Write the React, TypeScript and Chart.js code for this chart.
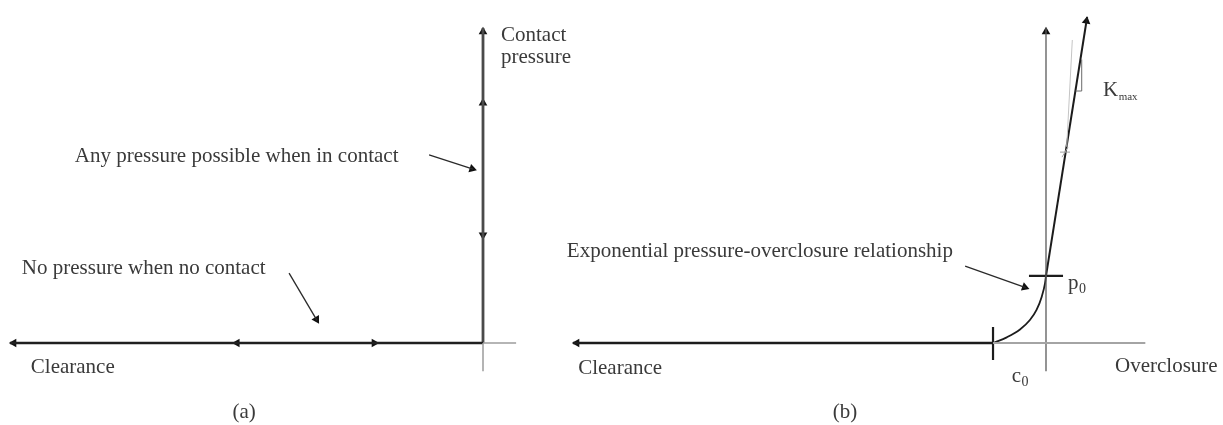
import { useEffect, useRef } from "react";
import { Chart, registerables } from "chart.js";

Chart.register(...registerables);

type Pt = { x: number; y: number };
type Head = { x: number; y: number; fx: number; fy: number };
type Label = { text: string; x: number; y: number; sub?: string; subSize?: number; align?: CanvasTextAlign };

const W = 1223;
const H = 425;

// ---------- (a) hard contact ----------
const hardClearance: Pt[] = [{ x: -1, y: 0 }, { x: 0, y: 0 }];
const hardPressure: Pt[] = [{ x: 0, y: 0 }, { x: 0, y: 1 }];
const hardOverclosureStub: Pt[] = [{ x: 0, y: 0 }, { x: 0.07, y: 0 }];
const hardNegativeStub: Pt[] = [{ x: 0, y: 0 }, { x: 0, y: -0.09 }];
const hardNoteContact: Pt[] = [{ x: -0.114, y: 0.597 }, { x: -0.021, y: 0.552 }];
const hardNoteNoContact: Pt[] = [{ x: -0.41, y: 0.222 }, { x: -0.351, y: 0.072 }];
const hardHeads: Head[] = [
  { x: -0.992, y: 0, fx: 0, fy: 0 },
  { x: -0.52, y: 0, fx: 0, fy: 0 },
  { x: -0.23, y: 0, fx: -1, fy: 0 },
  { x: 0, y: 0.988, fx: 0, fy: 0 },
  { x: 0, y: 0.762, fx: 0, fy: 0 },
  { x: 0, y: 0.343, fx: 0, fy: 1 },
  { x: -0.023, y: 0.553, fx: -0.114, fy: 0.597 },
  { x: -0.352, y: 0.075, fx: -0.41, fy: 0.222 },
];
const hardLabels: Label[] = [
  { text: "Contact", x: 0.038, y: 0.959 },
  { text: "pressure", x: 0.038, y: 0.889 },
  { text: "Any pressure possible when in contact", x: -0.863, y: 0.575 },
  { text: "No pressure when no contact", x: -0.975, y: 0.219 },
  { text: "Clearance", x: -0.956, y: -0.095 },
  { text: "(a)", x: -0.505, y: -0.238, align: "center" },
];

// ---------- (b) exponential contact ----------
const c0 = -0.112;
const p0 = 0.213;
const softClearance: Pt[] = [{ x: -1, y: 0 }, { x: c0, y: 0 }];
const softAxisH: Pt[] = [{ x: c0, y: 0 }, { x: 0.21, y: 0 }];
const softAxisV: Pt[] = [{ x: 0, y: -0.09 }, { x: 0, y: 1 }];
const softCurve: Pt[] = [
  { x: -0.111, y: 0.0 },
  { x: -0.083, y: 0.018 },
  { x: -0.055, y: 0.043 },
  { x: -0.034, y: 0.073 },
  { x: -0.02, y: 0.105 },
  { x: -0.009, y: 0.147 },
  { x: -0.002, y: 0.19 },
  { x: 0, y: 0.213 },
];
const softLinear: Pt[] = [{ x: 0, y: p0 }, { x: 0.087, y: 1.035 }];
const softKmaxGuide: Pt[] = [{ x: 0.0438, y: 0.623 }, { x: 0.0556, y: 0.962 }];
const softSlopeTriangle: Pt[] = [{ x: 0.0625, y: 0.8 }, { x: 0.0755, y: 0.8 }, { x: 0.0755, y: 0.9 }];
const softC0Tick: Pt[] = [{ x: c0, y: 0.051 }, { x: c0, y: -0.054 }];
const softP0Tick: Pt[] = [{ x: -0.036, y: p0 }, { x: 0.036, y: p0 }];
const softMarkA: Pt[] = [{ x: 0.0296, y: 0.606 }, { x: 0.0507, y: 0.606 }];
const softMarkB: Pt[] = [{ x: 0.0338, y: 0.59 }, { x: 0.0465, y: 0.622 }];
const softNote: Pt[] = [{ x: -0.171, y: 0.244 }, { x: -0.043, y: 0.176 }];
const softHeads: Head[] = [
  { x: -0.992, y: 0, fx: 0, fy: 0 },
  { x: 0, y: 0.988, fx: 0, fy: 0 },
  { x: 0.0855, y: 1.022, fx: 0, fy: p0 },
  { x: -0.045, y: 0.177, fx: -0.171, fy: 0.244 },
];
const softLabels: Label[] = [
  { text: "Exponential pressure-overclosure relationship", x: -1.013, y: 0.273 },
  { text: "Clearance", x: -0.989, y: -0.098 },
  { text: "Overclosure", x: 0.146, y: -0.092 },
  { text: "(b)", x: -0.425, y: -0.238, align: "center" },
  { text: "p", sub: "0", subSize: 14, x: 0.0465, y: 0.171 },
  { text: "c", sub: "0", subSize: 14, x: -0.0725, y: -0.123 },
  { text: "K", sub: "max", subSize: 11, x: 0.1205, y: 0.784 },
];

const FONT = '"Liberation Serif", "Times New Roman", serif';
const INK = "#1c1c1c";

function labelPlugin(items: Label[]) {
  return {
    id: "sketchLabels",
    afterDatasetsDraw(chart: Chart) {
      const { ctx, scales } = chart;
      ctx.save();
      ctx.fillStyle = "#3a3a3a";
      ctx.textBaseline = "alphabetic";
      for (const l of items) {
        const px = scales.x.getPixelForValue(l.x);
        const py = scales.y.getPixelForValue(l.y);
        ctx.font = `21px ${FONT}`;
        ctx.textAlign = l.align ?? "left";
        ctx.fillText(l.text, px, py);
        if (l.sub) {
          const w = ctx.measureText(l.text).width;
          ctx.font = `${l.subSize ?? 14}px ${FONT}`;
          ctx.textAlign = "left";
          ctx.fillText(l.sub, px + w + 0.5, py + 4);
        }
      }
      ctx.restore();
    },
  };
}

function line(data: Pt[], color: string, width: number, extra: Record<string, unknown> = {}) {
  return {
    data,
    showLine: true,
    borderColor: color,
    borderWidth: width,
    pointRadius: 0,
    fill: false,
    clip: false as const,
    ...extra,
  };
}

function heads(data: Head[], radius = 5) {
  return {
    data,
    showLine: false,
    pointStyle: "triangle" as const,
    pointRadius: radius,
    pointBorderWidth: 0,
    pointBackgroundColor: "#111",
    pointBorderColor: "#111",
    clip: false as const,
    pointRotation: (ctx: any) => {
      const raw = ctx.raw as Head | undefined;
      if (!raw) return 0;
      const sx = ctx.chart.scales.x;
      const sy = ctx.chart.scales.y;
      const dx = sx.getPixelForValue(raw.x) - sx.getPixelForValue(raw.fx);
      const dy = sy.getPixelForValue(raw.y) - sy.getPixelForValue(raw.fy);
      return (Math.atan2(dx, -dy) * 180) / Math.PI;
    },
  };
}

function baseOptions(xMin: number, xMax: number, originX: number, items: Label[]) {
  const ux = 473;
  const uy = 315;
  const originY = 343;
  const yMin = -0.1;
  const yMax = 1.06;
  return {
    type: "scatter" as const,
    options: {
      responsive: false,
      animation: false as const,
      events: [] as any[],
      layout: {
        padding: {
          left: originX + xMin * ux,
          right: W - (originX + xMax * ux),
          top: originY - yMax * uy,
          bottom: H - (originY - yMin * uy),
        },
      },
      plugins: { legend: { display: false }, tooltip: { enabled: false }, title: { display: false } },
      scales: {
        x: { type: "linear" as const, min: xMin, max: xMax, display: false },
        y: { type: "linear" as const, min: yMin, max: yMax, display: false },
      },
    },
    plugins: [labelPlugin(items)],
  };
}

export default function App() {
  const refA = useRef<HTMLCanvasElement>(null);
  const refB = useRef<HTMLCanvasElement>(null);

  useEffect(() => {
    if (!refA.current || !refB.current) return;

    const a = baseOptions(-1, 0.07, 483, hardLabels);
    const chartA = new Chart(refA.current, {
      ...a,
      data: {
        datasets: [
          line(hardOverclosureStub, "#9c9c9c", 1.5),
          line(hardNegativeStub, "#9c9c9c", 1.5),
          line(hardClearance, "#202020", 2.5),
          line(hardPressure, "#4a4a4a", 2.8),
          line(hardNoteContact, "#2a2a2a", 1.3),
          line(hardNoteNoContact, "#2a2a2a", 1.3),
          heads(hardHeads),
        ],
      },
    } as any);

    const b = baseOptions(-1, 0.21, 1046, softLabels);
    const chartB = new Chart(refB.current, {
      ...b,
      data: {
        datasets: [
          line(softAxisH, "#a4a4a4", 2),
          line(softAxisV, "#5a5a5a", 1.3),
          line(softKmaxGuide, "#c4c4c4", 1),
          line(softSlopeTriangle, "#6a6a6a", 1),
          line(softMarkA, "#a0a0a0", 1),
          line(softMarkB, "#a0a0a0", 1),
          line(softClearance, INK, 2.5),
          line(softCurve, INK, 1.8, { cubicInterpolationMode: "monotone" }),
          line(softLinear, INK, 2),
          line(softC0Tick, INK, 2.2),
          line(softP0Tick, INK, 2.4),
          line(softNote, "#2a2a2a", 1.3),
          heads(softHeads),
        ],
      },
    } as any);

    return () => {
      chartA.destroy();
      chartB.destroy();
    };
  }, []);

  const canvasStyle: React.CSSProperties = { position: "absolute", left: 0, top: 0 };
  return (
    <div style={{ position: "absolute", left: 0, top: 0, width: W, height: H, background: "#fff" }}>
      <canvas ref={refA} width={W} height={H} style={canvasStyle} />
      <canvas ref={refB} width={W} height={H} style={canvasStyle} />
    </div>
  );
}
